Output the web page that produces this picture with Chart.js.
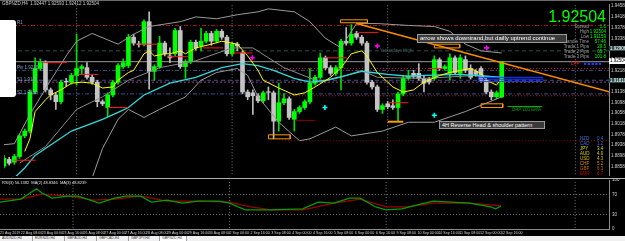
<!DOCTYPE html>
<html><head><meta charset="utf-8">
<script src="https://cdn.jsdelivr.net/npm/chart.js@4.4.0/dist/chart.umd.min.js"></script>
<style>
html,body{margin:0;padding:0;background:#000;width:625px;height:241px;overflow:hidden;font-family:"Liberation Sans",Arial,sans-serif;}
#wrap{position:relative;width:625px;height:241px;background:#000;}
canvas{position:absolute;left:0;}
.t{position:absolute;white-space:nowrap;line-height:1;}
.r{text-align:right;}
</style></head><body><div id="wrap">
<canvas id="main" width="625" height="180" style="top:0"></canvas>
<canvas id="rsi" width="625" height="58" style="top:178px"></canvas>

<div style="position:absolute;left:0;top:0;width:625px;height:1px;background:#6a6a6a"></div>
<div style="position:absolute;left:0;top:178px;width:625px;height:1px;background:#b0b0b0"></div>
<div class="t" style="left:2px;top:2px;font-size:4.5px;color:#d0d0d0">GBPNZD,H4&nbsp; 1.92447 1.92593 1.92412 1.92504</div>
<div style="position:absolute;left:0;top:20px;width:16px;height:77px;background:#fff;border-radius:0 3px 3px 0"></div>
<div class="t" style="left:17px;top:21px;font-size:4.5px;color:#8f9fcf">R1</div>
<div class="t" style="left:17px;top:66px;font-size:4.5px;color:#8f9fcf">Piv 1.9218</div>
<div class="t" style="left:17px;top:78px;font-size:4.5px;color:#8f9fcf">S1 1.9181</div>
<div class="t" style="left:17px;top:91px;font-size:4.5px;color:#8f9fcf">S2 1.9130</div>
<div class="t" style="left:380px;top:49px;font-size:4.5px;color:#3f5f5f">Yesterdays High</div>

<div class="t r" style="right:19px;top:9px;font-size:16px;color:#00ff00">1.92504</div>
<div class="t r" style="right:36px;top:24px;font-size:4.5px;color:#a0a0a0;line-height:5px">Spread<br>High<br>Low<br>Candle Time<br>Trade 1 Pips<br>Trade 2 Pips<br>Trade 3 Pips</div>
<div class="t r" style="right:19px;top:24px;font-size:4.5px;color:#00ff00;line-height:5px">1.6<br>1.92504<br>1.91159<br>57:46<br>29.5<br>65.7<br>101.8</div>

<div class="t" style="left:417px;top:34px;width:146px;height:7px;background:#3a3a3a;border:1px solid #9a9a9a;color:#fff;font-size:6px;line-height:7px;padding-left:2px">arrow shows downtrand,but dailly uptrend continue</div>
<div class="t" style="left:439px;top:121px;width:102px;height:6px;background:#3a3a3a;border:1px solid #9a9a9a;color:#fff;font-size:5.5px;line-height:6px;padding-left:2px">4H Reverse Head &amp; shoulder pattern</div>
<div class="t" style="left:512px;top:108px;font-size:4.5px;color:#00a000">DAP 200 EMA</div>
<div class="t" style="left:571px;top:62px;font-size:4.5px;color:#ff2020">LPP</div>
<div class="t" style="left:584px;top:62px;font-size:4.5px;color:#2040ff;letter-spacing:1px">■■■■■</div>

<div class="t" style="left:580px;top:136px;font-size:4.5px;line-height:5px">
<span style="color:#3a6fe0">NZD</span><br><span style="color:#3a6fe0">CAD</span><br><span style="color:#e0d800">JPY</span><br><span style="color:#e0d800">AUD</span><br><span style="color:#d0c000">USD</span><br><span style="color:#e09000">CHF</span><br><span style="color:#c06a00">GBP</span><br><span style="color:#d00000">EUR</span></div>
<div class="t" style="left:597px;top:136px;font-size:4.5px;line-height:5px">
<span style="color:#3a6fe0">0.4</span><br><span style="color:#3a6fe0">1.2</span><br><span style="color:#e0d800">3.4</span><br><span style="color:#e0d800">4.0</span><br><span style="color:#d0c000">4.3</span><br><span style="color:#e09000">5.2</span><br><span style="color:#c06a00">6.3</span><br><span style="color:#d00000">6.7</span></div>

<div class="t" style="left:609px;top:58px;width:16px;height:6px;background:#fff;color:#000;font-size:4.5px;line-height:6px;padding-left:1px">1.92504</div>
<div class="t" style="left:609px;top:46px;width:16px;height:5px;background:#2f4f4f;color:#fff;font-size:4.5px;line-height:5px;padding-left:1px">1.92906</div>
<div class="t" style="left:609px;top:78px;width:16px;height:5px;background:#2f4f4f;color:#fff;font-size:4.5px;line-height:5px;padding-left:1px">1.91810</div>

<div class="t" style="left:2px;top:181px;font-size:4px;color:#e0e0e0">RSI(3) 56.1382&nbsp; MA(2) 48.8346&nbsp; MA(3) 48.8239</div>

<div style="position:absolute;left:0;top:236px;width:625px;height:5px;background:#f0f0f0;display:flex;font-size:3.5px;line-height:5px;color:#333">
<div style="width:30px;border-right:1px solid #a0a0a0;padding-left:2px">AUDNZD,H4</div>
<div style="width:29px;border-right:1px solid #a0a0a0;padding-left:2px">EURNZD,H4</div>
<div style="width:29px;border-right:1px solid #a0a0a0;padding-left:2px">GBPAUD,H4</div>
<div style="width:29px;border-right:1px solid #a0a0a0;padding-left:2px">GBPCAD,H4</div>
<div style="width:28px;border-right:1px solid #a0a0a0;padding-left:2px">GBPJPY,H4</div>
<div style="width:24px;border-right:1px solid #a0a0a0;padding-left:2px;background:#fff">GBPNZD,H4</div>
</div>
</div>
<script>
// ---- candles (GBPNZD H4) ----
const openP = [1.8860,1.8885,1.8875,1.8896,1.8973,1.8991,1.9137,1.9225,1.9247,1.9145,
 1.9126,1.9101,1.9177,1.9174,1.9199,1.9225,1.9228,1.9192,1.9174,1.9101,
 1.9079,1.9126,1.9174,1.9232,1.9236,1.9342,1.9317,1.9316,1.9400,1.9214,
 1.9232,1.9320,1.9272,1.9280,1.9367,1.9232,1.9250,1.9323,1.9309,1.9327,
 1.9356,1.9327,1.9364,1.9342,1.9280,1.9316,1.9283,1.9137,1.9134,1.9123,
 1.9104,1.9138,1.9134,1.9028,1.9097,1.9112,1.9035,1.9064,1.9079,1.9101,
 1.9170,1.9192,1.9265,1.9228,1.9207,1.9228,1.9327,1.9320,1.9356,1.9342,
 1.9320,1.9174,1.9156,1.9072,1.9093,1.9086,1.9079,1.9130,1.9188,1.9207,
 1.9207,1.9188,1.9185,1.9188,1.9258,1.9225,1.9207,1.9265,1.9207,1.9258,
 1.9225,1.9214,1.9225,1.9181,1.9137,1.9119,1.9119];
const highP = [1.8900,1.8893,1.8904,1.8980,1.8999,1.9145,1.9265,1.9261,1.9254,1.9152,
 1.9134,1.9181,1.9188,1.9207,1.9353,1.9239,1.9247,1.9199,1.9181,1.9108,
 1.9134,1.9181,1.9243,1.9261,1.9353,1.9353,1.9327,1.9407,1.9437,1.9239,
 1.9345,1.9327,1.9302,1.9375,1.9382,1.9258,1.9331,1.9331,1.9375,1.9364,
 1.9364,1.9371,1.9371,1.9349,1.9323,1.9323,1.9291,1.9145,1.9145,1.9130,
 1.9141,1.9156,1.9141,1.9170,1.9130,1.9119,1.9072,1.9086,1.9108,1.9225,
 1.9199,1.9283,1.9272,1.9236,1.9236,1.9334,1.9378,1.9389,1.9364,1.9349,
 1.9327,1.9181,1.9163,1.9093,1.9101,1.9108,1.9137,1.9196,1.9218,1.9218,
 1.9243,1.9196,1.9192,1.9272,1.9265,1.9239,1.9280,1.9272,1.9276,1.9272,
 1.9239,1.9221,1.9232,1.9188,1.9145,1.9141,1.92504];
const lowP = [1.8853,1.8864,1.8867,1.8889,1.8966,1.8984,1.9130,1.9218,1.9137,1.9108,
 1.9072,1.9093,1.9159,1.9166,1.9163,1.9203,1.9185,1.9166,1.9082,1.9086,
 1.9046,1.9119,1.9166,1.9225,1.9228,1.9312,1.9305,1.9309,1.9148,1.9181,
 1.9225,1.9272,1.9247,1.9272,1.9225,1.9188,1.9243,1.9294,1.9291,1.9320,
 1.9312,1.9320,1.9334,1.9272,1.9272,1.9291,1.9130,1.9108,1.9053,1.9097,
 1.9097,1.9108,1.8962,1.8991,1.9090,1.9035,1.8991,1.9057,1.9072,1.9093,
 1.9163,1.9185,1.9221,1.9199,1.9199,1.9145,1.9312,1.9312,1.9334,1.9312,
 1.9166,1.9148,1.9064,1.9057,1.9075,1.9072,1.9028,1.9123,1.9181,1.9188,
 1.9181,1.9137,1.9166,1.9181,1.9218,1.9218,1.9181,1.9203,1.9188,1.9210,
 1.9185,1.9196,1.9174,1.9130,1.9108,1.9112,1.9116];
const closeP = [1.8889,1.8871,1.8896,1.8973,1.8991,1.9137,1.9225,1.9247,1.9145,1.9126,
 1.9101,1.9174,1.9175,1.9199,1.9225,1.9232,1.9192,1.9174,1.9101,1.9093,
 1.9126,1.9174,1.9236,1.9247,1.9342,1.9320,1.9315,1.9400,1.9214,1.9232,
 1.9320,1.9280,1.9265,1.9367,1.9232,1.9250,1.9323,1.9302,1.9327,1.9356,
 1.9327,1.9364,1.9342,1.9280,1.9316,1.9309,1.9137,1.9119,1.9123,1.9104,
 1.9134,1.9136,1.9028,1.9097,1.9112,1.9042,1.9064,1.9079,1.9101,1.9170,
 1.9192,1.9265,1.9228,1.9207,1.9228,1.9327,1.9320,1.9353,1.9342,1.9320,
 1.9174,1.9156,1.9072,1.9086,1.9082,1.9079,1.9130,1.9188,1.9196,1.9196,
 1.9188,1.9170,1.9174,1.9258,1.9225,1.9232,1.9265,1.9210,1.9265,1.9218,
 1.9192,1.9203,1.9181,1.9137,1.9119,1.9134,1.92504];

// ---- time axis ----
const dateLabels = ["21 Aug 2019","22 Aug 08:00","23 Aug 00:00","23 Aug 16:00","26 Aug 08:00","27 Aug 00:00","27 Aug 16:00","28 Aug 08:00","29 Aug 00:00","29 Aug 16:00","30 Aug 08:00","2 Sep 00:00","2 Sep 16:00","3 Sep 08:00","4 Sep 00:00","4 Sep 16:00","5 Sep 08:00","6 Sep 00:00","6 Sep 16:00","9 Sep 08:00","10 Sep 00:00","10 Sep 16:00","11 Sep 08:00","12 Sep 00:00","12 Sep 16:00"];
const dateIdx = [0,4,8,12,16,20,24,28,32,36,40,44,48,52,56,60,64,68,72,76,80,84,88,92,96];
const priceTicks = [1.9458,1.9418,1.9378,1.9338,1.9298,1.9258,1.9218,1.9178,1.9138,1.9098,1.9058,1.9018,1.8978,1.8938,1.8898,1.8858];
const rsiTicks = [0,30,70,100];
const sepIdx = [14,44,74,110.2];

// ---- indicators ----
const emaIdx = [4,5,6,8,9,11,13,15,17,19,21,22,24,25,27,28,29,31,32,34,35,37,40,42,45,47,49,50,53,56,58,60,63,65,67,69,70,72,75,77,79,81,84,86,90,92,93,95,96];
const emaVal = [1.8915,1.8962,1.9064,1.9108,1.9126,1.9145,1.9170,1.9174,1.9170,1.9152,1.9156,1.9181,1.9210,1.9218,1.9280,1.9291,1.9272,1.9280,1.9280,1.9291,1.9280,1.9302,1.9316,1.9327,1.9316,1.9272,1.9218,1.9181,1.9152,1.9126,1.9134,1.9156,1.9192,1.9228,1.9280,1.9291,1.9272,1.9210,1.9156,1.9137,1.9145,1.9174,1.9199,1.9210,1.9225,1.9207,1.9181,1.9163,1.9188];
const slowIdx = [2,4,6,13,19,22,24,27,32,37,42,46,49,52,56,59,62,66,69,71,74,78,81,88,93,96];
const slowVal = [1.8816,1.8853,1.8900,1.8991,1.9035,1.9061,1.9079,1.9126,1.9170,1.9192,1.9228,1.9243,1.9236,1.9218,1.9188,1.9174,1.9181,1.9199,1.9214,1.9210,1.9203,1.9196,1.9199,1.9203,1.9196,1.9192];
const upperIdx = [0,2,5,9,12,14,17,22,25,28,34,37,41,45,49,51,56,59,62,65,67,68,72,78,83,86,89,92,96];
const upperVal = [1.8940,1.8944,1.9053,1.9181,1.9272,1.9327,1.9356,1.9316,1.9353,1.9382,1.9400,1.9418,1.9411,1.9426,1.9437,1.9448,1.9437,1.9400,1.9338,1.9302,1.9364,1.9393,1.9393,1.9386,1.9382,1.9364,1.9316,1.9291,1.9283];
const midIdx = [3,8,14,19,24,30,37,44,48,54,61,65,69,72,81,91,96];
const midVal = [1.8871,1.8933,1.9072,1.9119,1.9181,1.9228,1.9254,1.9302,1.9302,1.9228,1.9174,1.9192,1.9218,1.9192,1.9188,1.9199,1.9192];
const lowerIdx = [10,17,19,22,24,27,30,35,38,41,45,47,49,53,57,59,64,67,73,78,83,89,96];
const lowerVal = [1.8761,1.8816,1.8926,1.9035,1.9072,1.9042,1.9072,1.9119,1.9181,1.9210,1.9225,1.9199,1.9119,1.9024,1.8955,1.8962,1.9006,1.8973,1.8991,1.9024,1.9024,1.9064,1.9119];

// ---- RSI panel ----
const rsiGreenIdx = [0,4,7,8,10,13,15,19,22,24,27,29,32,35,38,42,44,47,52,58,61,64,67,69,72,74,77,80,83,90,94,95,96];
const rsiGreen = [55,61,82,74,63,67,67,53,63,67,67,55,59,53,57,57,53,39,39,41,55,53,63,63,45,39,41,49,57,53,45,41,47];
const rsiRedIdx = [0,4,8,13,18,22,27,32,38,44,48,52,58,64,69,74,78,83,90,96];
const rsiRed = [61,61,71,67,59,61,67,57,57,55,45,39,39,53,61,45,45,53,53,47];

// ---- levels & drawn objects ----
const levelPrice = [1.9386,1.9291,1.92504,1.9225,1.9218,1.9181,1.9174,1.9130,1.9123,1.8955];
const levelStart = [0,0,0,51.7,0,0,0,0,51.7,53.6];
const segFrom = [1.9,7.7,14.4,20.1,25.9,31.6,38.3,44.1,61.9,68.4,74.2,82.0,56.1];
const segTo   = [6.1,12.1,18.2,23.9,29.7,35.5,42.2,47.9,66.1,72.2,78.0,84.7,60.0];
const segVal  = [1.8882,1.9247,1.9203,1.9079,1.9316,1.9269,1.9302,1.9283,1.9265,1.9360,1.9097,1.9225,1.9031];
const boxFrom = [64.9,83.0,92.0,51.0];
const boxTo   = [70.1,87.9,96.2,55.2];
const boxHigh = [1.9407,1.9316,1.9093,1.8977];
const boxLow  = [1.9396,1.9302,1.9079,1.8962];
const trendIdx = [68.0,116.9];
const trendVal = [1.9393,1.9137];
const downArrowIdx = [47.9,72.0,93.1];
const downArrowVal = [1.9265,1.9309,1.9302];
const upArrowIdx = [61.9,83.0];
const upArrowVal = [1.9079,1.9050];
const emaDapIdx = [97.1,103.8];
const emaDapVal = 1.9083;
const blueIdx = [91.4,104.0];
const blueVal = [1.9192,1.9185,1.9177];
const orangeBarIdx = [74.0,77.0];
const orangeBarVal = 1.9026;

// ---- rendering ----
const xMin = 0.02, xMax = 116.69;
const yMin = 1.88234, yMax = 1.94658;
const pts = (xs, ys) => xs.map((x, i) => ({x, y: Array.isArray(ys) ? ys[i] : ys}));
const line = (data, color, extra) => Object.assign({type:'line', data, borderColor:color, borderWidth:1, pointRadius:0, pointHoverRadius:0, tension:0, fill:false, order:10}, extra || {});

const bull = closeP.map((c, i) => c >= openP[i]);
const bodyColor = bull.map(b => b ? '#00ff00' : '#c4c4c4');
const wickColor = bull.map(b => b ? '#00e000' : '#bcbcbc');

const levelStyle = [
  {c:'#a01818', d:[4,2,1,2]},
  {c:'#2a5248', d:[4,3]},
  {c:'#9a9a9a', d:[]},
  {c:'#e01010', d:[1,2]},
  {c:'#35559a', d:[4,2,1,2]},
  {c:'#35559a', d:[4,3]},
  {c:'#a0407a', d:[2,2]},
  {c:'#35559a', d:[4,2,1,2]},
  {c:'#c01010', d:[1,2]},
  {c:'#8b0000', d:[1,2]}
];

const ds = [];
levelPrice.forEach((p, i) => ds.push(line(pts([levelStart[i], xMax + 2], p), levelStyle[i].c, {borderDash: levelStyle[i].d, order: 60})));
sepIdx.forEach(x => ds.push(line([{x, y:yMin - 1}, {x, y:yMax + 1}], '#7a7a7a', {borderDash:[1,2], order:61})));

ds.push({type:'bar', data: closeP.map((_, i) => ({x:i, y:[lowP[i], highP[i]]})), backgroundColor: wickColor, barThickness:1, grouped:false, order:40, borderWidth:0});
ds.push({type:'bar', data: closeP.map((_, i) => ({x:i, y:[openP[i], closeP[i]]})), backgroundColor: bodyColor, barThickness:4, grouped:false, order:35, borderWidth:0});

ds.push(line(pts(upperIdx, upperVal), '#9a9a9a', {order:20}));
ds.push(line(pts(midIdx, midVal), '#8a8a8a', {order:20}));
ds.push(line(pts(lowerIdx, lowerVal), '#9a9a9a', {order:20}));
ds.push(line(pts(slowIdx, slowVal), '#30d8d8', {order:12, borderWidth:1.3}));
ds.push(line(pts(emaIdx, emaVal), '#ffff00', {order:11}));

segFrom.forEach((f, i) => ds.push(line(pts([f, segTo[i]], segVal[i]), i === segFrom.length - 1 ? '#8b0000' : '#ff1a1a', {order:8, borderWidth:1})));
boxFrom.forEach((f, i) => ds.push(line([{x:f,y:boxHigh[i]},{x:boxTo[i],y:boxHigh[i]},{x:boxTo[i],y:boxLow[i]},{x:f,y:boxLow[i]},{x:f,y:boxHigh[i]}], '#ff9900', {order:7})));
ds.push(line(pts(orangeBarIdx, orangeBarVal), '#ff9900', {order:7, borderWidth:2}));
ds.push(line(pts(trendIdx, trendVal), '#ff8c00', {order:6, borderWidth:1.5}));
ds.push(line(pts(emaDapIdx, emaDapVal), '#00b000', {order:6}));
blueVal.forEach(v => ds.push(line(pts(blueIdx, v), '#1e3cff', {order:6})));
ds.push(line(pts(downArrowIdx, downArrowVal), '#ff00ff', {showLine:false, pointRadius:2.5, pointStyle:'cross', pointBorderWidth:1.6, pointBorderColor:'#ff00ff', order:2}));
ds.push(line(pts(upArrowIdx, upArrowVal), '#00ffff', {showLine:false, pointRadius:2.5, pointStyle:'cross', pointBorderWidth:1.6, pointBorderColor:'#00ffff', order:2}));

new Chart(document.getElementById('main'), {
  type:'bar',
  data:{datasets: ds},
  options:{
    responsive:false, animation:false, events:[],
    layout:{padding:{top:2, bottom:2, left:0, right:0}},
    plugins:{legend:{display:false}, tooltip:{enabled:false}},
    scales:{
      x:{type:'linear', min:xMin, max:xMax, display:false, offset:false},
      y:{type:'linear', position:'right', min:yMin, max:yMax,
         afterBuildTicks: s => { s.ticks = priceTicks.map(v => ({value:v})); },
         afterFit: s => { s.width = 16; s.paddingTop = 0; s.paddingBottom = 0; },
         ticks:{color:'#d0d0d0', font:{size:4.5, family:'Liberation Sans'}, padding:2, callback: v => Number(v).toFixed(5)},
         grid:{display:false, drawTicks:false},
         border:{display:true, color:'#8a8a8a'}}
    }
  }
});

const rds = [];
sepIdx.forEach(x => rds.push(line([{x, y:-10}, {x, y:110}], '#7a7a7a', {borderDash:[1,2], order:30})));
rds.push(line(pts(rsiRedIdx, rsiRed), '#a00000', {borderWidth:1.3, order:12}));
rds.push(line(pts(rsiGreenIdx, rsiGreen), '#00a000', {borderWidth:1.3, order:11}));

new Chart(document.getElementById('rsi'), {
  type:'line',
  data:{datasets: rds},
  options:{
    responsive:false, animation:false, events:[],
    layout:{padding:{top:2, bottom:0, left:0, right:0}},
    plugins:{legend:{display:false}, tooltip:{enabled:false}},
    scales:{
      x:{type:'linear', min:xMin, max:xMax, position:'bottom',
         afterBuildTicks: s => { s.ticks = dateIdx.map(v => ({value:v})); },
         afterFit: s => { s.height = 7; s.paddingLeft = 0; s.paddingRight = 0; },
         ticks:{color:'#d0d0d0', font:{size:3.6, family:'Liberation Sans'}, padding:1.5, align:'start', maxRotation:0, minRotation:0, autoSkip:false, callback: (v, i) => dateLabels[i]},
         grid:{drawOnChartArea:false, drawTicks:false},
         border:{display:true, color:'#8a8a8a'}},
      y:{type:'linear', position:'right', min:0, max:100,
         afterBuildTicks: s => { s.ticks = rsiTicks.map(v => ({value:v})); },
         afterFit: s => { s.width = 16; s.paddingTop = 0; s.paddingBottom = 0; },
         ticks:{color:'#d0d0d0', font:{size:4.5, family:'Liberation Sans'}, padding:3},
         grid:{color: c => (c.tick && (c.tick.value === 30 || c.tick.value === 70)) ? '#6e6e6e' : 'rgba(0,0,0,0)', drawTicks:false},
         border:{display:true, color:'#8a8a8a', dash:[1,2]}}
    }
  }
});
</script>
</body></html>
